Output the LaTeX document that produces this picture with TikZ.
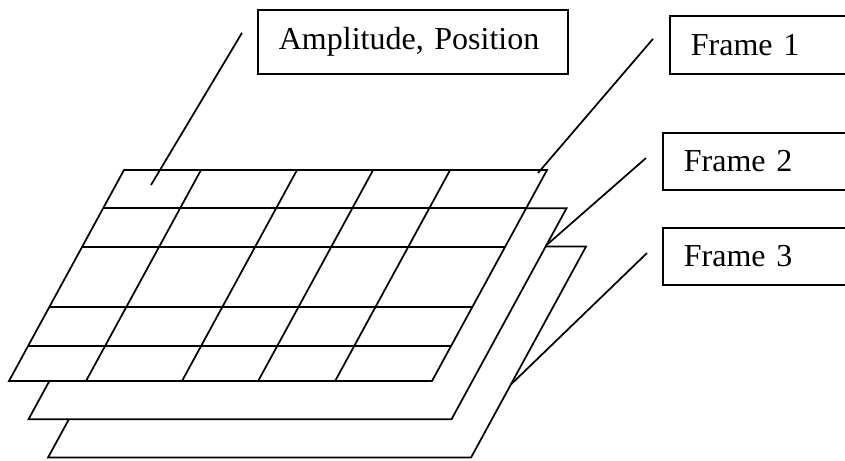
\documentclass[tikz,border=0pt]{standalone}
\usepackage{fontspec}
\setmainfont{Liberation Serif}
\usetikzlibrary{calc,positioning}

\begin{document}
\begin{tikzpicture}[x=0.75pt,y=-0.75pt,line width=1.3pt,
    labelbox/.style={draw,anchor=north west,align=left,inner xsep=15.75pt,
      font=\fontsize{24}{28}\selectfont}]
  \useasboundingbox (0,0) rectangle (845,460);
  % the three frames, back one first
  \foreach \k in {3,2,1} {
    \coordinate (f\k-tl) at ({124+19.5*(\k-1)},{170+38.3*(\k-1)});
    \coordinate (f\k-tr) at ({547+19.5*(\k-1)},{170+38.3*(\k-1)});
    \coordinate (f\k-br) at ({432+19.5*(\k-1)},{381+38.3*(\k-1)});
    \coordinate (f\k-bl) at ({9+19.5*(\k-1)},{381+38.3*(\k-1)});
    \draw[fill=white] (f\k-tl) -- (f\k-tr) -- (f\k-br) -- (f\k-bl) -- cycle;
  }
  % grid on the front frame
  \foreach \r in {0.180,0.365,0.649,0.834}
    \draw ($(f1-tl)!\r!(f1-bl)$) -- ($(f1-tr)!\r!(f1-br)$);
  \foreach \c in {0.182,0.409,0.589,0.771}
    \draw ($(f1-tl)!\c!(f1-tr)$) -- ($(f1-bl)!\c!(f1-br)$);

  \node[labelbox,text width=201pt,minimum height=48pt] (amp) at (257,9) {Amplitude, Position};
  \node[labelbox,text width=160pt,minimum height=43.5pt] (frame1) at (669,15) {Frame 1};
  \node[labelbox,text width=160pt,minimum height=43pt] (frame2) at (662,132) {Frame 2};
  \node[labelbox,text width=160pt,minimum height=43pt] (frame3) at (662,227) {Frame 3};

  % leader lines
  \coordinate (amp-foot) at (151,185);
  \coordinate (f1-foot) at (538,173);
  \coordinate (f2-foot) at ($(f2-tr)!0.175!(f2-br)$);
  \coordinate (f3-foot) at ($(f3-tr)!0.654!(f3-br)$);
  \draw ($(amp.west)+(-15,-9)$) -- (amp-foot);
  \draw ($(frame1.west)+(-16,-6)$) -- (f1-foot);
  \draw ($(frame2.west)+(-16,-3.5)$) -- (f2-foot);
  \draw ($(frame3.west)+(-15,-3.5)$) -- (f3-foot);
\end{tikzpicture}
\end{document}
